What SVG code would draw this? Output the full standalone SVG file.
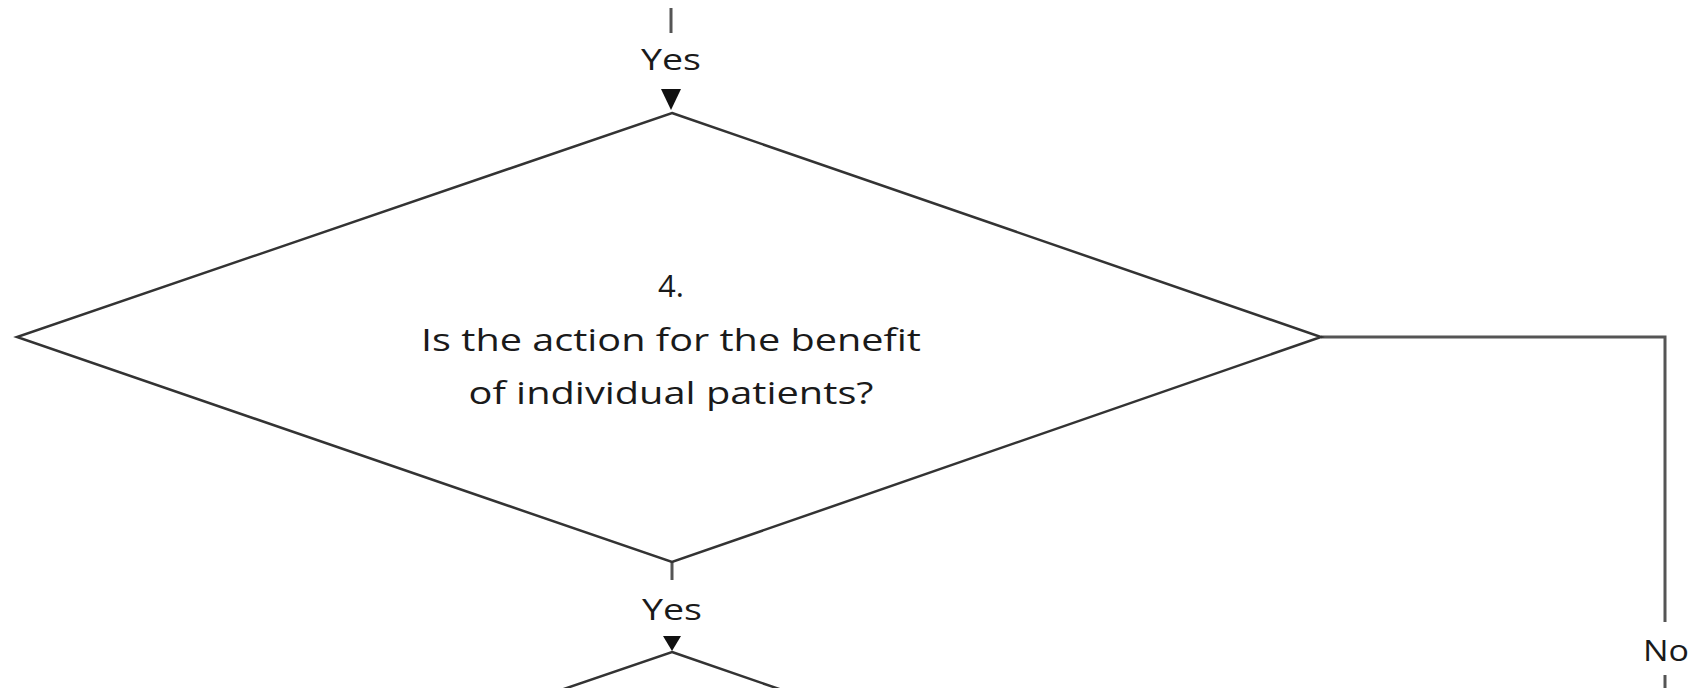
<svg xmlns="http://www.w3.org/2000/svg" width="1695" height="688" viewBox="0 0 1695 688">
  <style>
    .shape { fill: #ffffff; stroke: #333333; stroke-width: 2.5; stroke-linejoin: miter; }
    .link { fill: none; stroke: #555555; stroke-width: 3; }
    .head { fill: #111111; }
    .label { font-family: "Open Sans", "Liberation Sans", sans-serif; font-size: 30px; fill: #1a1a1a; text-anchor: middle; }
    .body { font-family: "Open Sans", "Liberation Sans", sans-serif; font-size: 31px; fill: #1a1a1a; text-anchor: middle; }
  </style>
  <rect x="0" y="0" width="1695" height="688" fill="#ffffff"/>

  <!-- connectors -->
  <g id="connectors">
    <line class="link" x1="671" y1="8" x2="671" y2="33"/>
    <path class="head" d="M661,89 L681,89 L671,110 Z"/>
    <line class="link" x1="672" y1="562" x2="672" y2="580"/>
    <path class="head" d="M663,636 L681,636 L672,651 Z"/>
    <polyline class="link" points="1321,337 1665,337 1665,622"/>
    <line class="link" x1="1665" y1="675" x2="1665" y2="688"/>
    <text class="label" x="671" y="70" textLength="60" lengthAdjust="spacingAndGlyphs">Yes</text>
    <text class="label" x="672" y="620" textLength="60" lengthAdjust="spacingAndGlyphs">Yes</text>
    <text class="label" x="1666" y="661" textLength="46" lengthAdjust="spacingAndGlyphs">No</text>
  </g>

  <!-- decision 4 -->
  <g id="decision-4">
    <polygon class="shape" points="672,113 1321,337 672,562 17,337"/>
    <text class="body" x="671" y="297">4.</text>
    <text class="body" x="671" y="351" textLength="500" lengthAdjust="spacingAndGlyphs">Is the action for the benefit</text>
    <text class="body" x="671" y="404" textLength="405" lengthAdjust="spacingAndGlyphs">of individual patients?</text>
  </g>

  <!-- next decision (continues below) -->
  <g id="decision-5">
    <polygon class="shape" points="672,652 1321,876 672,1100 17,876"/>
  </g>
</svg>
